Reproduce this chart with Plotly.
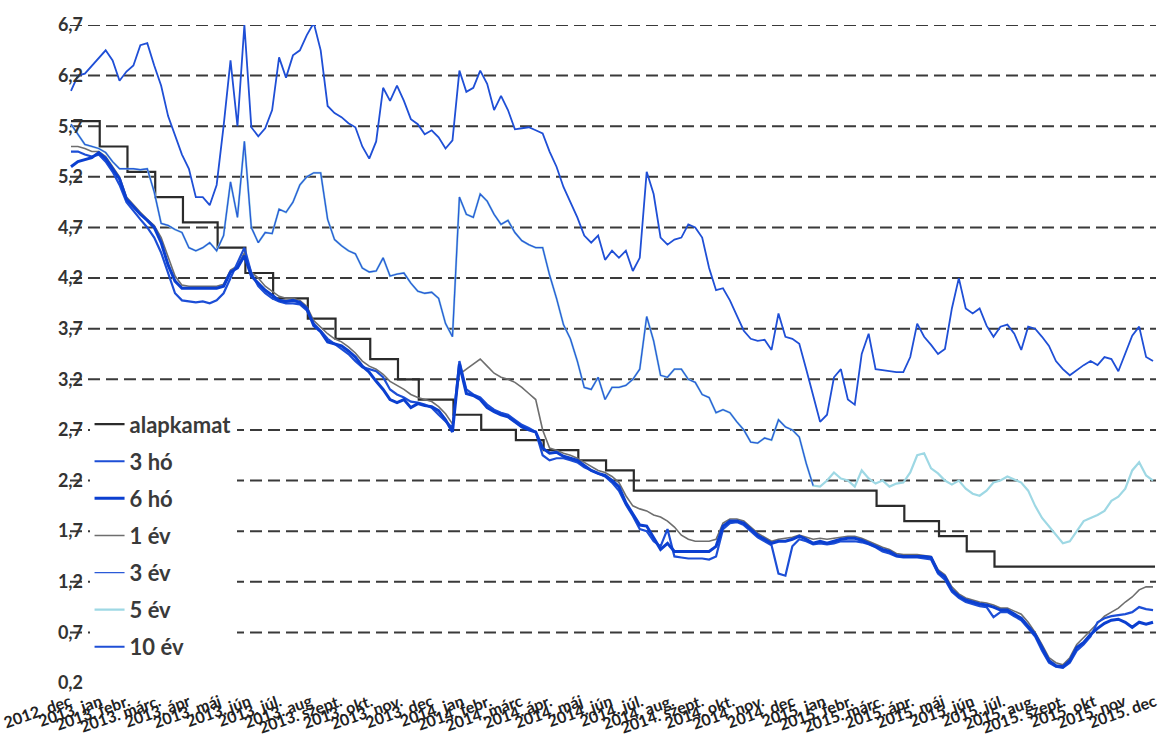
import pandas as pd
import plotly.graph_objects as go

# weekly observation dates (chart x axis)
weeks = pd.date_range("2013-01-01", periods=157, freq="7D")

# central bank base rate (step changes)
base_dates = ["2013-01-01", "2013-01-30", "2013-02-27", "2013-03-27", "2013-04-24",
              "2013-05-29", "2013-06-26", "2013-07-24", "2013-08-28", "2013-09-25",
              "2013-10-30", "2013-11-27", "2013-12-18", "2014-01-22", "2014-02-19",
              "2014-03-26", "2014-04-23", "2014-05-28", "2014-06-25", "2014-07-23",
              "2015-03-25", "2015-04-22", "2015-05-27", "2015-06-24", "2015-07-22",
              "2015-12-31"]
base_rate = [5.75, 5.5, 5.25, 5.0, 4.75, 4.5, 4.25, 4.0, 3.8, 3.6,
             3.4, 3.2, 3.0, 2.85, 2.7, 2.6, 2.5, 2.4, 2.3, 2.1,
             1.95, 1.8, 1.65, 1.5, 1.35, 1.35]

m3 = [5.45, 5.45, 5.42, 5.4, 5.42, 5.35, 5.25, 5.12, 4.95, 4.86,
      4.78, 4.7, 4.6, 4.45, 4.25, 4.05, 3.98, 3.97, 3.96, 3.97,
      3.95, 3.98, 4.05, 4.2, 4.35, 4.5, 4.25, 4.12, 4.05, 4.0,
      3.97, 3.95, 3.95, 3.94, 3.88, 3.75, 3.68, 3.6, 3.55, 3.5,
      3.45, 3.38, 3.32, 3.3, 3.28, 3.22, 3.1, 3.05, 3.02, 2.98,
      2.97, 2.95, 2.92, 2.85, 2.78, 2.72, 3.38, 3.1, 3.05, 3.02,
      2.95, 2.9, 2.87, 2.85, 2.8, 2.75, 2.72, 2.68, 2.45, 2.4,
      2.42, 2.42, 2.4, 2.38, 2.33, 2.3, 2.27, 2.24, 2.18, 2.1,
      1.96, 1.85, 1.72, 1.7, 1.6, 1.55, 1.72, 1.45, 1.44, 1.43,
      1.43, 1.43, 1.42, 1.45, 1.72, 1.78, 1.79, 1.76, 1.7, 1.64,
      1.6, 1.56, 1.28, 1.26, 1.55, 1.62, 1.6, 1.57, 1.58, 1.57,
      1.58, 1.6, 1.6, 1.6, 1.59, 1.57, 1.54, 1.5, 1.48, 1.45,
      1.44, 1.44, 1.44, 1.43, 1.42, 1.28, 1.22, 1.1, 1.04, 1.0,
      0.98, 0.96, 0.95, 0.85, 0.9, 0.9, 0.86, 0.82, 0.74, 0.66,
      0.52, 0.4, 0.36, 0.35, 0.4, 0.52, 0.58, 0.66, 0.8, 0.84,
      0.86, 0.87, 0.88, 0.9, 0.95, 0.93, 0.92]

m6 = [5.3, 5.35, 5.37, 5.39, 5.44, 5.38, 5.28, 5.18, 4.98, 4.9,
      4.83, 4.77, 4.7, 4.55, 4.33, 4.17, 4.1, 4.1, 4.1, 4.1,
      4.1, 4.1, 4.12, 4.26, 4.3, 4.42, 4.22, 4.15, 4.08, 4.03,
      3.98, 3.97, 3.98, 3.96, 3.9, 3.73, 3.67, 3.57, 3.55, 3.53,
      3.48, 3.42, 3.33, 3.27, 3.18, 3.1, 3.0, 2.97, 3.0, 2.92,
      2.96, 2.94, 2.93, 2.89, 2.8, 2.68, 3.35, 3.06, 3.04, 3.0,
      2.92, 2.88, 2.85, 2.83, 2.78, 2.73, 2.7, 2.68, 2.52, 2.47,
      2.48, 2.44, 2.42, 2.4, 2.35, 2.3, 2.27, 2.25, 2.2, 2.14,
      1.98, 1.87, 1.76, 1.75, 1.64, 1.52, 1.58, 1.5, 1.5, 1.5,
      1.5, 1.5, 1.5, 1.55, 1.75, 1.8, 1.8, 1.78, 1.72, 1.66,
      1.62, 1.58, 1.6, 1.6, 1.62, 1.65, 1.62, 1.58, 1.6, 1.58,
      1.6, 1.62, 1.63, 1.63, 1.61, 1.58, 1.55, 1.52, 1.5, 1.46,
      1.45, 1.45, 1.45, 1.45, 1.44, 1.3, 1.25, 1.12, 1.06, 1.02,
      1.0, 0.98, 0.97, 0.95, 0.92, 0.92, 0.88, 0.84, 0.76, 0.68,
      0.55, 0.42, 0.37, 0.36, 0.42, 0.55, 0.6, 0.68, 0.74, 0.79,
      0.82, 0.83, 0.8, 0.75, 0.8, 0.78, 0.8]

y1 = [5.5, 5.5, 5.48, 5.45, 5.45, 5.4, 5.3, 5.2, 5.0, 4.92,
      4.85, 4.78, 4.72, 4.6, 4.4, 4.22, 4.13, 4.12, 4.12, 4.12,
      4.12, 4.12, 4.14, 4.28, 4.32, 4.45, 4.26, 4.2, 4.12, 4.07,
      4.02, 4.0, 4.0, 3.98, 3.92, 3.78, 3.72, 3.65, 3.6, 3.57,
      3.52, 3.46, 3.38, 3.33, 3.3, 3.25, 3.18, 3.14, 3.1, 3.05,
      3.02, 3.0, 2.98, 2.93, 2.86, 2.76, 3.25, 3.3, 3.35, 3.4,
      3.33, 3.26, 3.22, 3.2, 3.17, 3.12, 3.06, 3.0, 2.7, 2.52,
      2.5, 2.47, 2.45, 2.42, 2.38, 2.34, 2.3, 2.28, 2.24, 2.18,
      2.05, 1.95, 1.92, 1.9, 1.86, 1.84, 1.8, 1.74, 1.66, 1.62,
      1.6, 1.6, 1.6, 1.62, 1.78, 1.82, 1.82, 1.8, 1.74, 1.68,
      1.64, 1.6, 1.62, 1.63, 1.64, 1.66, 1.64, 1.62, 1.63, 1.62,
      1.63, 1.64, 1.65, 1.65, 1.63, 1.6, 1.57, 1.54, 1.52, 1.48,
      1.47, 1.47, 1.47, 1.46, 1.45, 1.32, 1.27, 1.15, 1.08, 1.04,
      1.02, 1.0, 0.99, 0.97, 0.94, 0.94, 0.91, 0.88, 0.8, 0.7,
      0.58, 0.45, 0.4, 0.38, 0.45, 0.58, 0.65, 0.72, 0.8, 0.86,
      0.9, 0.94, 1.0, 1.05, 1.12, 1.15, 1.15]

y3 = [5.72, 5.62, 5.52, 5.5, 5.48, 5.44, 5.35, 5.28, 5.28, 5.28,
      5.27, 5.28, 5.05, 4.74, 4.72, 4.68, 4.65, 4.5, 4.47, 4.5,
      4.55, 4.47, 4.62, 5.15, 4.8, 5.55, 4.7, 4.55, 4.65, 4.64,
      4.88, 4.85, 4.95, 5.12, 5.2, 5.24, 5.24, 4.78, 4.58, 4.52,
      4.47, 4.44, 4.3, 4.26, 4.27, 4.4, 4.22, 4.24, 4.25, 4.15,
      4.07, 4.05, 4.06, 4.0, 3.75, 3.62, 5.0, 4.83, 4.8, 5.03,
      4.96, 4.83, 4.73, 4.77, 4.65, 4.57, 4.53, 4.5, 4.5, 4.23,
      4.0, 3.74, 3.6, 3.38, 3.12, 3.1, 3.22, 3.0, 3.12, 3.12,
      3.14, 3.2, 3.3, 3.82, 3.58, 3.24, 3.22, 3.3, 3.3, 3.2,
      3.17, 3.05, 3.02, 2.87, 2.9, 2.87, 2.78, 2.7, 2.58, 2.57,
      2.62, 2.6, 2.8, 2.73, 2.7, 2.63, 2.37, 2.15]

y5 = [5.72, 5.62, 5.52, 5.5, 5.48, 5.44, 5.35, 5.28, 5.28, 5.28,
      5.27, 5.28, 5.05, 4.74, 4.72, 4.68, 4.65, 4.5, 4.47, 4.5,
      4.55, 4.47, 4.62, 5.15, 4.8, 5.55, 4.7, 4.55, 4.65, 4.64,
      4.88, 4.85, 4.95, 5.12, 5.2, 5.24, 5.24, 4.78, 4.58, 4.52,
      4.47, 4.44, 4.3, 4.26, 4.27, 4.4, 4.22, 4.24, 4.25, 4.15,
      4.07, 4.05, 4.06, 4.0, 3.75, 3.62, 5.0, 4.83, 4.8, 5.03,
      4.96, 4.83, 4.73, 4.77, 4.65, 4.57, 4.53, 4.5, 4.5, 4.23,
      4.0, 3.74, 3.6, 3.38, 3.12, 3.1, 3.22, 3.0, 3.12, 3.12,
      3.14, 3.2, 3.3, 3.82, 3.58, 3.24, 3.22, 3.3, 3.3, 3.2,
      3.17, 3.05, 3.02, 2.87, 2.9, 2.87, 2.78, 2.7, 2.58, 2.57,
      2.62, 2.6, 2.8, 2.73, 2.7, 2.63, 2.37, 2.15, 2.14, 2.2,
      2.28, 2.22, 2.2, 2.14, 2.3, 2.22, 2.17, 2.2, 2.14, 2.17,
      2.18, 2.28, 2.45, 2.47, 2.32, 2.27, 2.2, 2.16, 2.2, 2.12,
      2.07, 2.05, 2.1, 2.18, 2.2, 2.24, 2.21, 2.18, 2.1, 1.95,
      1.83, 1.75, 1.66, 1.58, 1.6, 1.7, 1.8, 1.83, 1.86, 1.9,
      2.0, 2.04, 2.12, 2.3, 2.38, 2.25, 2.2]

y10 = [6.05, 6.2, 6.22, 6.3, 6.38, 6.45, 6.35, 6.15, 6.24, 6.3,
       6.5, 6.52, 6.3, 6.1, 5.8, 5.6, 5.42, 5.28, 5.0, 5.0,
       4.92, 5.12, 5.7, 6.35, 5.7, 6.7, 5.69, 5.6, 5.68, 5.86,
       6.38, 6.18, 6.4, 6.45, 6.6, 6.72, 6.45, 5.9, 5.83, 5.79,
       5.73, 5.69, 5.5, 5.38, 5.55, 6.08, 5.95, 6.1, 5.95, 5.77,
       5.72, 5.62, 5.66, 5.59, 5.48, 5.56, 6.25, 6.04, 6.08, 6.25,
       6.12, 5.86, 6.0, 5.86, 5.67, 5.68, 5.69, 5.66, 5.63, 5.45,
       5.3, 5.1, 4.95, 4.8, 4.62, 4.55, 4.62, 4.38, 4.47, 4.4,
       4.47, 4.27, 4.4, 5.25, 5.03, 4.6, 4.53, 4.58, 4.6, 4.73,
       4.7, 4.6, 4.3, 4.08, 4.1, 3.98, 3.83, 3.68, 3.6, 3.58,
       3.59, 3.49, 3.85, 3.62, 3.6, 3.55, 3.3, 3.05, 2.78, 2.85,
       3.22, 3.3, 3.0, 2.95, 3.45, 3.65, 3.3, 3.29, 3.28, 3.27,
       3.27, 3.42, 3.75, 3.62, 3.54, 3.45, 3.5, 3.9, 4.2, 3.9,
       3.85, 3.9, 3.73, 3.62, 3.72, 3.74, 3.65, 3.49, 3.72, 3.7,
       3.62, 3.53, 3.38, 3.3, 3.24, 3.29, 3.34, 3.38, 3.34, 3.42,
       3.4, 3.28, 3.45, 3.63, 3.72, 3.42, 3.38]

tick_dates = pd.date_range("2012-12-01", periods=37, freq="MS") + pd.offsets.MonthEnd(0)
tick_labels = ["2012. dec",
               "2013. jan", "2013. febr.", "2013. márc.", "2013. ápr", "2013. máj", "2013. jún",
               "2013. júl.", "2013. aug", "2013. szept.", "2013. okt.", "2013. nov.", "2013. dec",
               "2014. jan", "2014. febr.", "2014. márc", "2014. ápr.", "2014. máj", "2014. jún",
               "2014. júl.", "2014. aug.", "2014. szept.", "2014. okt.", "2014. nov.", "2014. dec",
               "2015. jan", "2015. febr.", "2015. márc.", "2015. ápr.", "2015. máj", "2015. jún",
               "2015. júl.", "2015. aug.", "2015. szept.", "2015. okt", "2015. nov", "2015. dec"]
y_ticks = [0.2, 0.7, 1.2, 1.7, 2.2, 2.7, 3.2, 3.7, 4.2, 4.7, 5.2, 5.7, 6.2, 6.7]

BLUE = "#1f4fd6"
fig = go.Figure()

def add(name, x, y, color, width, rank, shape="linear"):
    fig.add_trace(go.Scatter(x=x, y=y, name=name, mode="lines", legendgroup=name,
                             legendrank=rank, line=dict(color=color, width=width, shape=shape)))

add("alapkamat", base_dates, base_rate, "#2b2b2b", 2.2, 1, "hv")
add("5 év", weeks, y5, "#9ed8e4", 2.2, 6)
add("1 év", weeks, y1, "#6e6e6e", 1.6, 4)
add("3 év", weeks[:len(y3)], y3, "#2a5ad8", 1.3, 5)
add("10 év", weeks, y10, BLUE, 1.8, 7)
add("3 hó", weeks, m3, "#1c4ed6", 2.2, 2)
add("6 hó", weeks, m6, "#0b3fd0", 3.0, 3)

for lvl in y_ticks[1:]:
    fig.add_shape(type="line", xref="paper", x0=0, x1=1, yref="y", y0=lvl, y1=lvl,
                  line=dict(color="#3a3a3a", width=2, dash="12px,6px"), layer="below")

fig.update_layout(
    width=1159, height=737,
    margin=dict(l=70, r=0, t=25, b=54),
    paper_bgcolor="white", plot_bgcolor="white",
    separators=", ",
    font=dict(family="Lato", color="#333333"),
    showlegend=True,
    legend=dict(x=0.018, xanchor="left", y=0.425, yanchor="top",
                bgcolor="white", borderwidth=0, tracegroupgap=5.5,
                font=dict(family="Lato", size=22, color="#3a3a3a", weight="bold")),
    xaxis=dict(type="date", range=["2012-12-31", "2016-01-01"],
               tickvals=tick_dates, ticktext=tick_labels, tickangle=-19,
               ticklabeloverflow="allow", ticklabelstandoff=6,
               tickfont=dict(family="Lato", size=16, color="#222222", weight="bold"),
               showgrid=False, zeroline=False, showline=False, ticks=""),
    yaxis=dict(range=[0.2, 6.7], tickvals=y_ticks, tickformat=".1f",
               tickfont=dict(family="Lato", size=18, color="#333333", weight="bold"),
               showgrid=False, zeroline=False, showline=False, ticks="",
               ticklabelstandoff=-14),
)

fig.write_html("out.html",
               config={"displayModeBar": False},
               post_script="document.body.style.margin='0px';"
                           "document.body.style.overflow='hidden';")
